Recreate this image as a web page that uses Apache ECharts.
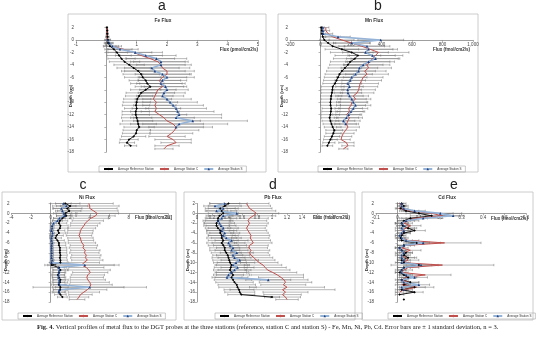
<!DOCTYPE html>
<html><head><meta charset="utf-8">
<script src="https://cdn.jsdelivr.net/npm/echarts/dist/echarts.min.js"></script>
<style>html,body{margin:0;padding:0;background:#fff}#c{width:537px;height:345px}</style>
</head><body><div id="c"></div>
<script>
// ---------------- DATA ----------------
const depth = [2,1.5,1,0.5,0,-0.5,-1,-1.5,-2,-2.5,-3,-3.5,-4,-4.5,-5,-5.5,-6,-6.5,-7,-7.5,-8,-8.5,-9,-9.5,-10,-10.5,-11,-11.5,-12,-12.5,-13,-13.5,-14,-14.5,-15,-15.5,-16,-16.5,-17,-17.5];
const depthTicks = [2,0,-2,-4,-6,-8,-10,-12,-14,-16,-18];
const seriesNames = ['Average Reference Station','Average Station C','Average Station S'];

// Fe (pmol/cm2/s)
const feTicks = [-1,0,1,2,3,4,5];
const feRef   = [0.02,0.03,0.03,0.04,0.05,0.06,0.12,0.25,0.35,0.42,0.5,0.6,0.75,0.9,1.05,1.15,1.2,1.3,1.35,1.45,1.3,1.15,1.08,1.02,1.0,0.98,1.0,0.97,0.97,1.0,1.03,1.05,1.08,1.0,0.98,0.9,0.75,0.68,0.8,null];
const feRefSd = [0.02,0.02,0.03,0.05,0.08,0.1,0.2,0.3,0.35,0.4,0.45,0.5,0.5,0.55,0.55,0.6,0.6,0.55,0.55,0.5,0.5,0.5,0.45,0.45,0.45,0.45,0.4,0.45,0.45,0.5,0.5,0.6,0.5,0.45,0.45,0.4,0.3,0.25,0.2,null];
const feC     = [0.02,0.02,0.03,0.03,0.04,0.08,0.2,0.55,0.9,1.15,1.45,1.7,1.8,1.85,2.0,2.0,1.85,1.75,1.8,1.85,1.7,1.65,1.6,1.55,1.65,1.6,1.65,1.6,1.75,1.9,2.0,2.2,2.3,2.25,2.15,2.0,2.2,2.3,2.0,1.9];
const feCSd   = [0.02,0.02,0.03,0.05,0.1,0.15,0.3,0.5,0.6,0.7,0.8,0.9,0.8,0.9,0.9,0.8,0.8,0.7,0.7,0.7,0.6,0.6,0.6,0.6,0.7,0.7,0.8,0.8,0.9,1.0,1.1,1.0,0.9,0.8,0.7,0.6,0.6,0.5,0.4,0.3];
const feS     = [null,null,null,null,0.05,0.1,0.2,0.45,0.95,1.3,1.65,1.8,1.8,1.5,1.6,1.85,2.0,1.85,1.8,1.95,2.0,1.9,1.85,2.0,2.1,2.2,2.3,2.35,2.4,2.3,2.85,2.4,2.3,null,null,null,null,null,null,null];
const feSSd   = [null,null,null,null,0.05,0.1,0.2,0.4,0.9,1.0,1.0,0.9,1.0,0.9,1.0,0.9,0.9,0.8,0.8,0.7,0.7,0.7,0.7,0.8,0.9,1.0,1.0,1.2,1.4,1.5,1.8,1.6,1.2,null,null,null,null,null,null,null];

// Mn (fmol/cm2/s)
const mnTicks = [-200,0,200,400,600,800,1000];
const mnRef   = [5,10,10,15,25,50,80,140,205,245,225,195,180,160,140,125,115,105,95,80,78,75,70,68,65,66,70,68,65,60,65,72,80,90,85,75,65,55,45,null];
const mnRefSd = [5,8,10,15,30,50,80,110,140,150,140,130,120,110,100,95,90,85,80,75,75,70,70,65,65,65,60,60,60,55,55,55,55,55,50,50,45,40,35,null];
const mnC     = [35,35,50,80,140,205,270,325,380,360,340,325,305,315,290,305,280,270,260,255,250,240,215,230,205,200,185,190,170,190,180,170,180,165,150,140,135,170,180,150];
const mnCSd   = [20,25,30,50,80,120,150,180,200,180,170,160,150,150,140,140,130,130,120,120,110,110,100,100,100,95,90,90,90,85,80,80,75,70,70,65,60,50,40,30];
const mnS     = [15,15,18,115,395,205,305,315,295,340,360,315,280,255,250,230,205,195,180,190,178,180,190,205,215,230,215,200,185,170,150,165,null,null,null,null,null,null,null,null];
const mnSSd   = [10,10,15,80,150,120,150,160,150,150,160,140,130,120,110,110,100,100,90,90,90,90,90,95,95,100,95,90,85,80,75,70,null,null,null,null,null,null,null,null];

// Ni (fmol/cm2/s)
const niTicks = [-4,-2,0,2,4,6,8,10,12];
const niRef   = [1.5,2.0,1.7,1.9,1.5,1.6,1.2,0.95,0.85,1.0,0.95,0.75,0.85,0.6,0.5,0.7,0.85,0.85,0.95,0.95,0.95,1.0,0.95,1.0,1.0,0.1,0.85,1.0,0.85,0.75,0.85,1.0,0.95,0.85,1.0,0.95,0.85,1.0,1.2,null];
const niRefSd = [1.5,1.8,1.5,1.2,1.2,1.0,0.9,0.8,0.8,0.8,0.8,0.7,0.7,0.7,0.6,0.7,0.7,0.7,0.7,0.7,0.7,0.7,0.7,0.7,0.7,0.4,0.8,0.8,0.7,0.7,0.7,0.8,0.8,0.8,0.8,0.7,0.7,0.6,0.5,null];
const niC     = [3.9,4.0,4.0,4.4,4.75,4.6,4.1,3.8,3.55,3.4,3.2,3.05,3.0,2.9,3.05,3.1,3.2,3.4,3.3,3.55,3.45,3.65,3.55,3.75,3.4,3.2,3.65,3.9,4.05,3.8,3.7,3.8,4.0,4.1,4.0,3.75,3.4,3.05,2.9,2.7];
const niCSd   = [2.5,3.0,2.8,2.5,2.2,2.0,1.8,1.6,1.5,1.4,1.4,1.3,1.3,1.3,1.3,1.3,1.4,1.4,1.4,1.5,1.5,1.5,1.5,1.6,1.6,3.8,1.8,2.2,1.8,1.7,1.7,1.8,2.0,2.2,5.8,2.0,1.6,1.2,1.0,0.8];
const niS     = [1.3,1.6,1.1,1.2,1.35,1.4,0.9,0.7,0.3,0.15,0.15,0.1,0.2,0.15,0.1,0.1,0.15,0.1,0.1,0.1,0.12,0.1,0.1,0.15,0.1,3.5,0.8,0.9,0.85,0.8,0.8,0.9,0.85,0.9,4.0,0.9,0.85,null,null,null];
const niSSd   = [0.8,1.0,0.8,0.7,0.8,0.8,0.6,0.5,0.3,0.2,0.2,0.2,0.2,0.2,0.15,0.15,0.2,0.15,0.15,0.15,0.15,0.15,0.15,0.2,0.2,3.0,0.6,0.6,0.6,0.6,0.6,0.6,0.6,0.6,3.5,0.6,0.6,null,null,null];

// Pb (fmol/cm2/s)
const pbTicks = [0,0.2,0.4,0.6,0.8,1,1.2,1.4,1.6,1.8,2];
const pbRef   = [0.42,0.37,0.31,0.33,0.35,0.3,0.28,0.28,0.26,0.26,0.28,0.31,0.31,0.33,0.33,0.35,0.33,0.35,0.37,0.37,0.39,0.41,0.42,0.43,0.44,0.46,0.45,0.44,0.46,0.48,0.46,0.48,0.5,0.53,0.54,0.56,0.57,0.59,1.0,null];
const pbRefSd = [0.25,0.22,0.2,0.2,0.2,0.18,0.17,0.17,0.17,0.17,0.17,0.18,0.18,0.18,0.2,0.2,0.2,0.2,0.2,0.2,0.2,0.2,0.22,0.22,0.22,0.22,0.22,0.22,0.22,0.22,0.22,0.25,0.25,0.25,0.25,0.2,0.2,0.18,0.1,null];
const pbC     = [0.66,0.68,0.7,0.75,0.79,0.75,0.7,0.68,0.7,0.68,0.66,0.68,0.7,0.72,0.71,0.73,0.75,0.7,0.69,0.72,0.7,0.72,0.76,0.79,0.83,0.88,0.91,0.94,1.01,1.07,1.12,1.16,1.18,1.15,1.2,1.14,1.18,1.14,1.18,1.2];
const pbCSd   = [0.3,0.3,0.3,0.3,0.3,0.3,0.25,0.25,0.25,0.25,0.25,0.25,0.25,0.25,0.25,0.25,0.25,0.25,0.25,0.25,0.25,0.25,0.25,0.25,0.25,0.25,0.28,0.3,0.32,0.35,0.3,0.32,0.35,0.3,0.5,0.7,0.3,0.25,0.2,0.15];
const pbS     = [0.37,0.24,0.35,0.26,0.53,0.35,0.33,0.28,0.3,0.32,0.35,0.33,0.37,0.35,0.39,0.46,0.42,0.44,0.48,0.46,0.53,0.48,0.5,0.57,0.52,0.48,0.54,0.5,0.46,0.42,0.4,0.95,null,null,null,null,null,null,null,null];
const pbSSd   = [0.2,0.15,0.2,0.15,0.25,0.2,0.2,0.2,0.2,0.2,0.2,0.2,0.2,0.2,0.2,0.22,0.22,0.22,0.22,0.22,0.22,0.22,0.22,0.25,0.25,0.22,0.22,0.22,0.2,0.2,0.2,0.3,null,null,null,null,null,null,null,null];

// Cd (fmol/cm2/s)
const cdTicks = [-0.1,0,0.1,0.2,0.3,0.4,0.5,0.6];
const cdRef   = [0.02,0.03,0.015,0.04,0.10,0.16,0.06,0.03,0.02,0.025,0.05,0.08,0.03,0.02,0.015,0.02,0.09,0.03,0.01,0.02,0.04,0.03,0.05,0.02,0.03,0.10,0.03,0.02,0.01,0.03,0.05,0.02,0.06,0.03,0.08,0.02,0.08,0.01,null,0.03];
const cdRefSd = [0.02,0.02,0.02,0.03,0.06,0.1,0.05,0.03,0.03,0.03,0.04,0.05,0.03,0.02,0.02,0.02,0.06,0.03,0.02,0.02,0.03,0.03,0.04,0.02,0.03,0.06,0.03,0.02,0.02,0.03,0.04,0.02,0.04,0.03,0.05,0.02,0.04,0.02,null,null];
const cdC     = [0.01,0.02,0.01,0.06,0.16,0.21,0.08,0.05,0.03,0.06,0.04,0.02,0.03,0.01,0.02,0.05,0.22,0.04,0.02,0.06,0.03,0.02,0.04,0.05,0.02,0.21,0.05,0.03,0.02,0.13,0.04,0.02,0.05,0.02,0.09,0.03,0.01,null,null,null];
const cdCSd   = [0.01,0.02,0.02,0.04,0.1,0.08,0.06,0.05,0.04,0.05,0.04,0.03,0.03,0.02,0.03,0.05,0.17,0.04,0.03,0.05,0.04,0.03,0.04,0.05,0.03,0.24,0.05,0.04,0.03,0.12,0.04,0.03,0.05,0.03,0.08,0.04,0.02,null,null,null];
const cdS     = [0.02,0.02,0.03,0.08,0.20,0.26,0.12,0.04,0.02,0.03,0.02,0.03,0.02,0.01,0.02,0.04,0.12,0.03,0.01,0.02,0.03,0.02,0.02,0.03,0.02,0.11,0.03,0.02,0.02,0.04,0.08,0.02,0.03,0.10,0.02,0.03,null,null,null,null];
const cdSSd   = [0.01,0.02,0.02,0.05,0.1,0.05,0.08,0.04,0.03,0.03,0.03,0.03,0.02,0.02,0.02,0.03,0.08,0.03,0.02,0.02,0.03,0.02,0.02,0.03,0.02,0.08,0.03,0.02,0.02,0.03,0.06,0.02,0.03,0.05,0.02,0.02,null,null,null,null];

const captionBold = 'Fig. 4.';
const captionText = ' Vertical profiles of metal flux to the DGT probes at the three stations (reference, station C and station S) - Fe, Mn, Ni, Pb, Cd. Error bars are \u00b1 1 standard deviation, n = 3.';

// ---------------- LAYOUT ----------------
const panels = [
  {letter:'a', title:'Fe Flux', unit:'Flux (pmol/cm2/s)', ticks:feTicks, d:[feRef,feRefSd,feC,feCSd,feS,feSSd],
   grid:{left:76,top:27.5,width:182,height:124.5}, frame:[68,14,198,158], letterPos:[162,6], titlePos:[163,21], depthPos:[71,96], unitPos:[258,50], legendPos:[99,166]},
  {letter:'b', title:'Mn Flux', unit:'Flux (fmol/cm2/s)', ticks:mnTicks, d:[mnRef,mnRefSd,mnC,mnCSd,mnS,mnSSd],
   grid:{left:290,top:27.5,width:183,height:124.5}, frame:[278,14,200,158], letterPos:[378,6], titlePos:[374,21], depthPos:[282,96], unitPos:[470,50], legendPos:[318,166]},
  {letter:'c', title:'Ni Flux', unit:'Flux [fmol/cm2/s]', ticks:niTicks, d:[niRef,niRefSd,niC,niCSd,niS,niSSd],
   grid:{left:11,top:203.5,width:157,height:98.5}, frame:[2,192,174,128], letterPos:[83,185], titlePos:[87,198], depthPos:[6,260], unitPos:[172,218], legendPos:[18,313]},
  {letter:'d', title:'Pb Flux', unit:'Flux (fmol/cm2/s)', ticks:pbTicks, d:[pbRef,pbRefSd,pbC,pbCSd,pbS,pbSSd],
   grid:{left:197,top:203.5,width:150,height:98.5}, frame:[184,192,171,128], letterPos:[273,185], titlePos:[273,198], depthPos:[188,260], unitPos:[350,218], legendPos:[215,313]},
  {letter:'e', title:'Cd Flux', unit:'Flux (fmol/cm2/s)', ticks:cdTicks, d:[cdRef,cdRefSd,cdC,cdCSd,cdS,cdSSd],
   grid:{left:376,top:203.5,width:150,height:98.5}, frame:[362,192,171,128], letterPos:[454,185], titlePos:[447,198], depthPos:[367,260], unitPos:[528,219], legendPos:[388,313]}
];

const FONT = 'Liberation Sans, Arial, sans-serif';
const lineStyles = [
  {line:{color:'#000',width:0.9}, item:{color:'#000'}, symbol:'diamond', size:2.5},
  {line:{color:'#c0504d',width:1}, item:{color:'#c0504d'}, symbol:'none', size:0},
  {line:{color:'#95b3d7',width:1.6}, item:{color:'#1f3d7a'}, symbol:'triangle', size:2.6}
];

function errBar(params, api){
  const x = api.value(0), y = api.value(1), sd = api.value(2);
  if (isNaN(x) || isNaN(sd)) return null;
  const p1 = api.coord([x - sd, y]), p2 = api.coord([x + sd, y]);
  const h = 1.2, st = {stroke:'#707070', lineWidth:0.5};
  return {type:'group', children:[
    {type:'line', shape:{x1:p1[0],y1:p1[1],x2:p2[0],y2:p2[1]}, style:st},
    {type:'line', shape:{x1:p1[0],y1:p1[1]-h,x2:p1[0],y2:p1[1]+h}, style:st},
    {type:'line', shape:{x1:p2[0],y1:p2[1]-h,x2:p2[0],y2:p2[1]+h}, style:st}
  ]};
}

const yMin = depthTicks[depthTicks.length-1], yMax = depthTicks[0];
const grids=[], xAxes=[], yAxes=[], series=[], legends=[], graphics=[];
panels.forEach((p,i)=>{
  grids.push(Object.assign({containLabel:false}, p.grid));
  const t = p.ticks;
  // x axis crosses the depth axis at depth 0 (distance from the grid bottom follows the depth scale)
  const zeroOffset = -p.grid.height * (0 - yMin) / (yMax - yMin);
  xAxes.push({gridIndex:i, type:'value', min:t[0], max:t[t.length-1], interval:+(t[1]-t[0]).toFixed(6),
    position:'bottom', offset:zeroOffset,
    axisLine:{onZero:false, lineStyle:{color:'#868686', width:0.8}},
    axisTick:{show:true, length:2, lineStyle:{color:'#868686', width:0.6}},
    axisLabel:{fontSize:4.5, color:'#444', margin:2, fontFamily:FONT},
    splitLine:{show:false}});
  yAxes.push({gridIndex:i, type:'value', min:yMin, max:yMax, interval:depthTicks[0]-depthTicks[1],
    axisLine:{onZero:true, onZeroAxisIndex:i, lineStyle:{color:'#868686', width:0.8}},
    axisTick:{show:true, length:2, lineStyle:{color:'#868686', width:0.6}},
    axisLabel:{fontSize:4.5, color:'#444', margin:2, fontFamily:FONT},
    splitLine:{show:false}});
  for (let s=0; s<3; s++){
    const vals = p.d[s*2], sds = p.d[s*2+1];
    const eb = [];
    depth.forEach((dv,k)=>{ if (vals[k]!=null && sds[k]!=null) eb.push([vals[k], dv, sds[k]]); });
    series.push({type:'custom', xAxisIndex:i, yAxisIndex:i, renderItem:errBar, data:eb, encode:{x:0,y:1}, silent:true, z:1, clip:false});
  }
  for (let s=0; s<3; s++){
    const vals = p.d[s*2];
    const ls = lineStyles[s];
    series.push({type:'line', name:seriesNames[s], xAxisIndex:i, yAxisIndex:i,
      data: depth.map((dv,k)=> vals[k]==null ? ['-', dv] : [vals[k], dv]),
      symbol: ls.symbol, symbolSize: ls.size, showSymbol: ls.symbol!=='none',
      lineStyle: ls.line, itemStyle: ls.item, connectNulls:false, z:3, silent:true});
  }
  legends.push({data:seriesNames, left:p.legendPos[0], top:p.legendPos[1], orient:'horizontal',
    itemWidth:9, itemHeight:3, itemGap:5, selectedMode:false,
    textStyle:{fontSize:3, color:'#333', fontFamily:FONT},
    borderColor:'#a6a6a6', borderWidth:0.6, padding:[1.5,4]});
  graphics.push({type:'rect', shape:{x:p.frame[0], y:p.frame[1], width:p.frame[2], height:p.frame[3]},
    style:{fill:'none', stroke:'#bfbfbf', lineWidth:0.8}, silent:true});
  graphics.push({type:'text', x:p.letterPos[0], y:p.letterPos[1],
    style:{text:p.letter, fontSize:14, fontFamily:FONT, fill:'#222', align:'center', verticalAlign:'middle'}});
  graphics.push({type:'text', x:p.titlePos[0], y:p.titlePos[1],
    style:{text:p.title, fontSize:4.8, fontWeight:'bold', fontFamily:FONT, fill:'#333', align:'center', verticalAlign:'middle'}});
  graphics.push({type:'text', x:p.depthPos[0], y:p.depthPos[1], rotation:Math.PI/2,
    style:{text:'Depth (cm)', fontSize:4.3, fontWeight:'bold', fontFamily:FONT, fill:'#333', align:'center', verticalAlign:'middle'}});
  graphics.push({type:'text', x:p.unitPos[0], y:p.unitPos[1],
    style:{text:p.unit, fontSize:4.5, fontWeight:'bold', fontFamily:FONT, fill:'#333', align:'right', verticalAlign:'middle'}});
});
graphics.push({type:'text', x:37, y:327,
  style:{text:'{b|'+captionBold+'}'+captionText, fontSize:6.5, fontFamily:'Liberation Serif, serif', fill:'#222', verticalAlign:'middle',
    rich:{b:{fontSize:6.5, fontWeight:'bold', fontFamily:'Liberation Serif, serif', fill:'#222'}}}});

const chart = echarts.init(document.getElementById('c'), null, {renderer:'canvas'});
chart.setOption({animation:false, backgroundColor:'#fff', grid:grids, xAxis:xAxes, yAxis:yAxes, series:series, legend:legends, graphic:graphics});
</script></body></html>
